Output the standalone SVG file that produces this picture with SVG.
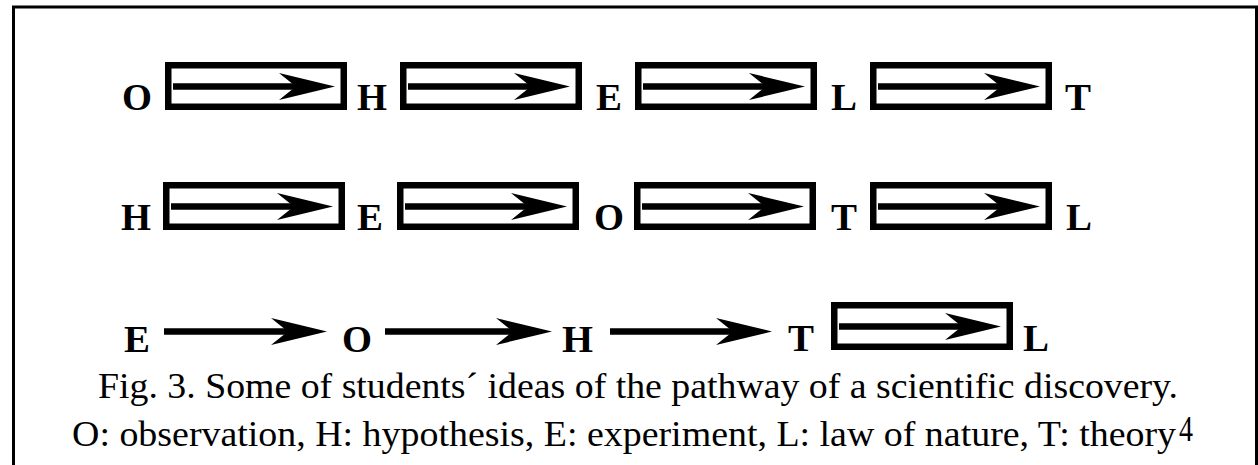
<svg xmlns="http://www.w3.org/2000/svg" width="1258" height="465" viewBox="0 0 1258 465">
<style>
.frame{fill:none;stroke:#000;stroke-width:3}
.box{fill:#fff;stroke:#000;stroke-width:6.5}
.shaft{stroke:#000;stroke-width:6.5;fill:none;marker-end:url(#ah)}
.lbl{font-family:'Liberation Serif','Times New Roman',Times,serif;font-weight:700;font-size:38px;fill:#000}
.cap{font-family:'Liberation Serif','Times New Roman',Times,serif;font-size:35px;fill:#000}
</style>
<defs>
<marker id="ah" viewBox="0 -14 56 28" markerWidth="56" markerHeight="28" refX="17" refY="0" markerUnits="userSpaceOnUse" orient="auto">
<path d="M56,0 L0,-13.5 Q13,-3 17,0 Q13,3 0,13.5 Z" fill="#000"/>
</marker>
</defs>
<rect width="1258" height="465" fill="#fff"/>
<path class="frame" d="M13.5,465 V7 H1256.5 V465"/>

<!-- Row 1 -->
<g id="r1-O"><text class="lbl" x="122" y="110" textLength="30" lengthAdjust="spacingAndGlyphs">O</text></g>
<g id="r1-box1"><rect class="box" x="168.25" y="65.25" width="175.5" height="41.5"/></g>
<g id="r1-H"><text class="lbl" x="357" y="110" textLength="30" lengthAdjust="spacingAndGlyphs">H</text></g>
<g id="r1-box2"><rect class="box" x="403.25" y="65.25" width="175.5" height="41.5"/></g>
<g id="r1-E"><text class="lbl" x="596" y="110" textLength="26" lengthAdjust="spacingAndGlyphs">E</text></g>
<g id="r1-box3"><rect class="box" x="638.25" y="65.25" width="175.5" height="41.5"/></g>
<g id="r1-L"><text class="lbl" x="831" y="110" textLength="26" lengthAdjust="spacingAndGlyphs">L</text></g>
<g id="r1-box4"><rect class="box" x="873.25" y="65.25" width="175.5" height="41.5"/></g>
<g id="r1-T"><text class="lbl" x="1065" y="110" textLength="26" lengthAdjust="spacingAndGlyphs">T</text></g>

<!-- Row 2 -->
<g id="r2-H"><text class="lbl" x="121" y="230" textLength="30" lengthAdjust="spacingAndGlyphs">H</text></g>
<g id="r2-box1"><rect class="box" x="166.25" y="185.25" width="175.5" height="41.5"/></g>
<g id="r2-E"><text class="lbl" x="357" y="230" textLength="26" lengthAdjust="spacingAndGlyphs">E</text></g>
<g id="r2-box2"><rect class="box" x="400.25" y="185.25" width="175.5" height="41.5"/></g>
<g id="r2-O"><text class="lbl" x="594" y="230" textLength="30" lengthAdjust="spacingAndGlyphs">O</text></g>
<g id="r2-box3"><rect class="box" x="637.25" y="185.25" width="175.5" height="41.5"/></g>
<g id="r2-T"><text class="lbl" x="831" y="230" textLength="26" lengthAdjust="spacingAndGlyphs">T</text></g>
<g id="r2-box4"><rect class="box" x="873.25" y="185.25" width="175.5" height="41.5"/></g>
<g id="r2-L"><text class="lbl" x="1066" y="230" textLength="26" lengthAdjust="spacingAndGlyphs">L</text></g>

<!-- Row 3 -->
<g id="r3-E"><text class="lbl" x="124" y="352" textLength="26" lengthAdjust="spacingAndGlyphs">E</text></g>
<g id="r3-O"><text class="lbl" x="342" y="352" textLength="30" lengthAdjust="spacingAndGlyphs">O</text></g>
<g id="r3-H"><text class="lbl" x="562" y="352" textLength="31" lengthAdjust="spacingAndGlyphs">H</text></g>
<g id="r3-T"><text class="lbl" x="788" y="351" textLength="26" lengthAdjust="spacingAndGlyphs">T</text></g>
<g id="r3-box1"><rect class="box" x="834.25" y="305.25" width="175.5" height="41.5"/></g>
<g id="r3-L"><text class="lbl" x="1023" y="351" textLength="26" lengthAdjust="spacingAndGlyphs">L</text></g>

<!-- Connectors -->
<g id="connectors">
<line class="shaft" x1="173" y1="86.5" x2="296" y2="86.5"/>
<line class="shaft" x1="408" y1="86.5" x2="531" y2="86.5"/>
<line class="shaft" x1="643" y1="86.5" x2="766" y2="86.5"/>
<line class="shaft" x1="878" y1="86.5" x2="1001" y2="86.5"/>
<line class="shaft" x1="171" y1="206.5" x2="294" y2="206.5"/>
<line class="shaft" x1="405" y1="206.5" x2="528" y2="206.5"/>
<line class="shaft" x1="642" y1="206.5" x2="765" y2="206.5"/>
<line class="shaft" x1="878" y1="206.5" x2="1001" y2="206.5"/>
<line class="shaft" x1="164" y1="331.5" x2="288" y2="331.5"/>
<line class="shaft" x1="385" y1="331.5" x2="513" y2="331.5"/>
<line class="shaft" x1="610" y1="331.5" x2="733" y2="331.5"/>
<line class="shaft" x1="839" y1="326.5" x2="962" y2="326.5"/>
</g>

<!-- Caption -->
<g id="caption">
<text class="cap" x="98" y="398" textLength="1080" lengthAdjust="spacingAndGlyphs">Fig. 3. Some of students´ ideas of the pathway of a scientific discovery.</text>
<text class="cap" x="72" y="446" textLength="1104" lengthAdjust="spacingAndGlyphs">O: observation, H: hypothesis, E: experiment, L: law of nature, T: theory</text>
<text class="cap" x="1179" y="441" font-size="24" textLength="14" lengthAdjust="spacingAndGlyphs">4</text>
</g>
</svg>
